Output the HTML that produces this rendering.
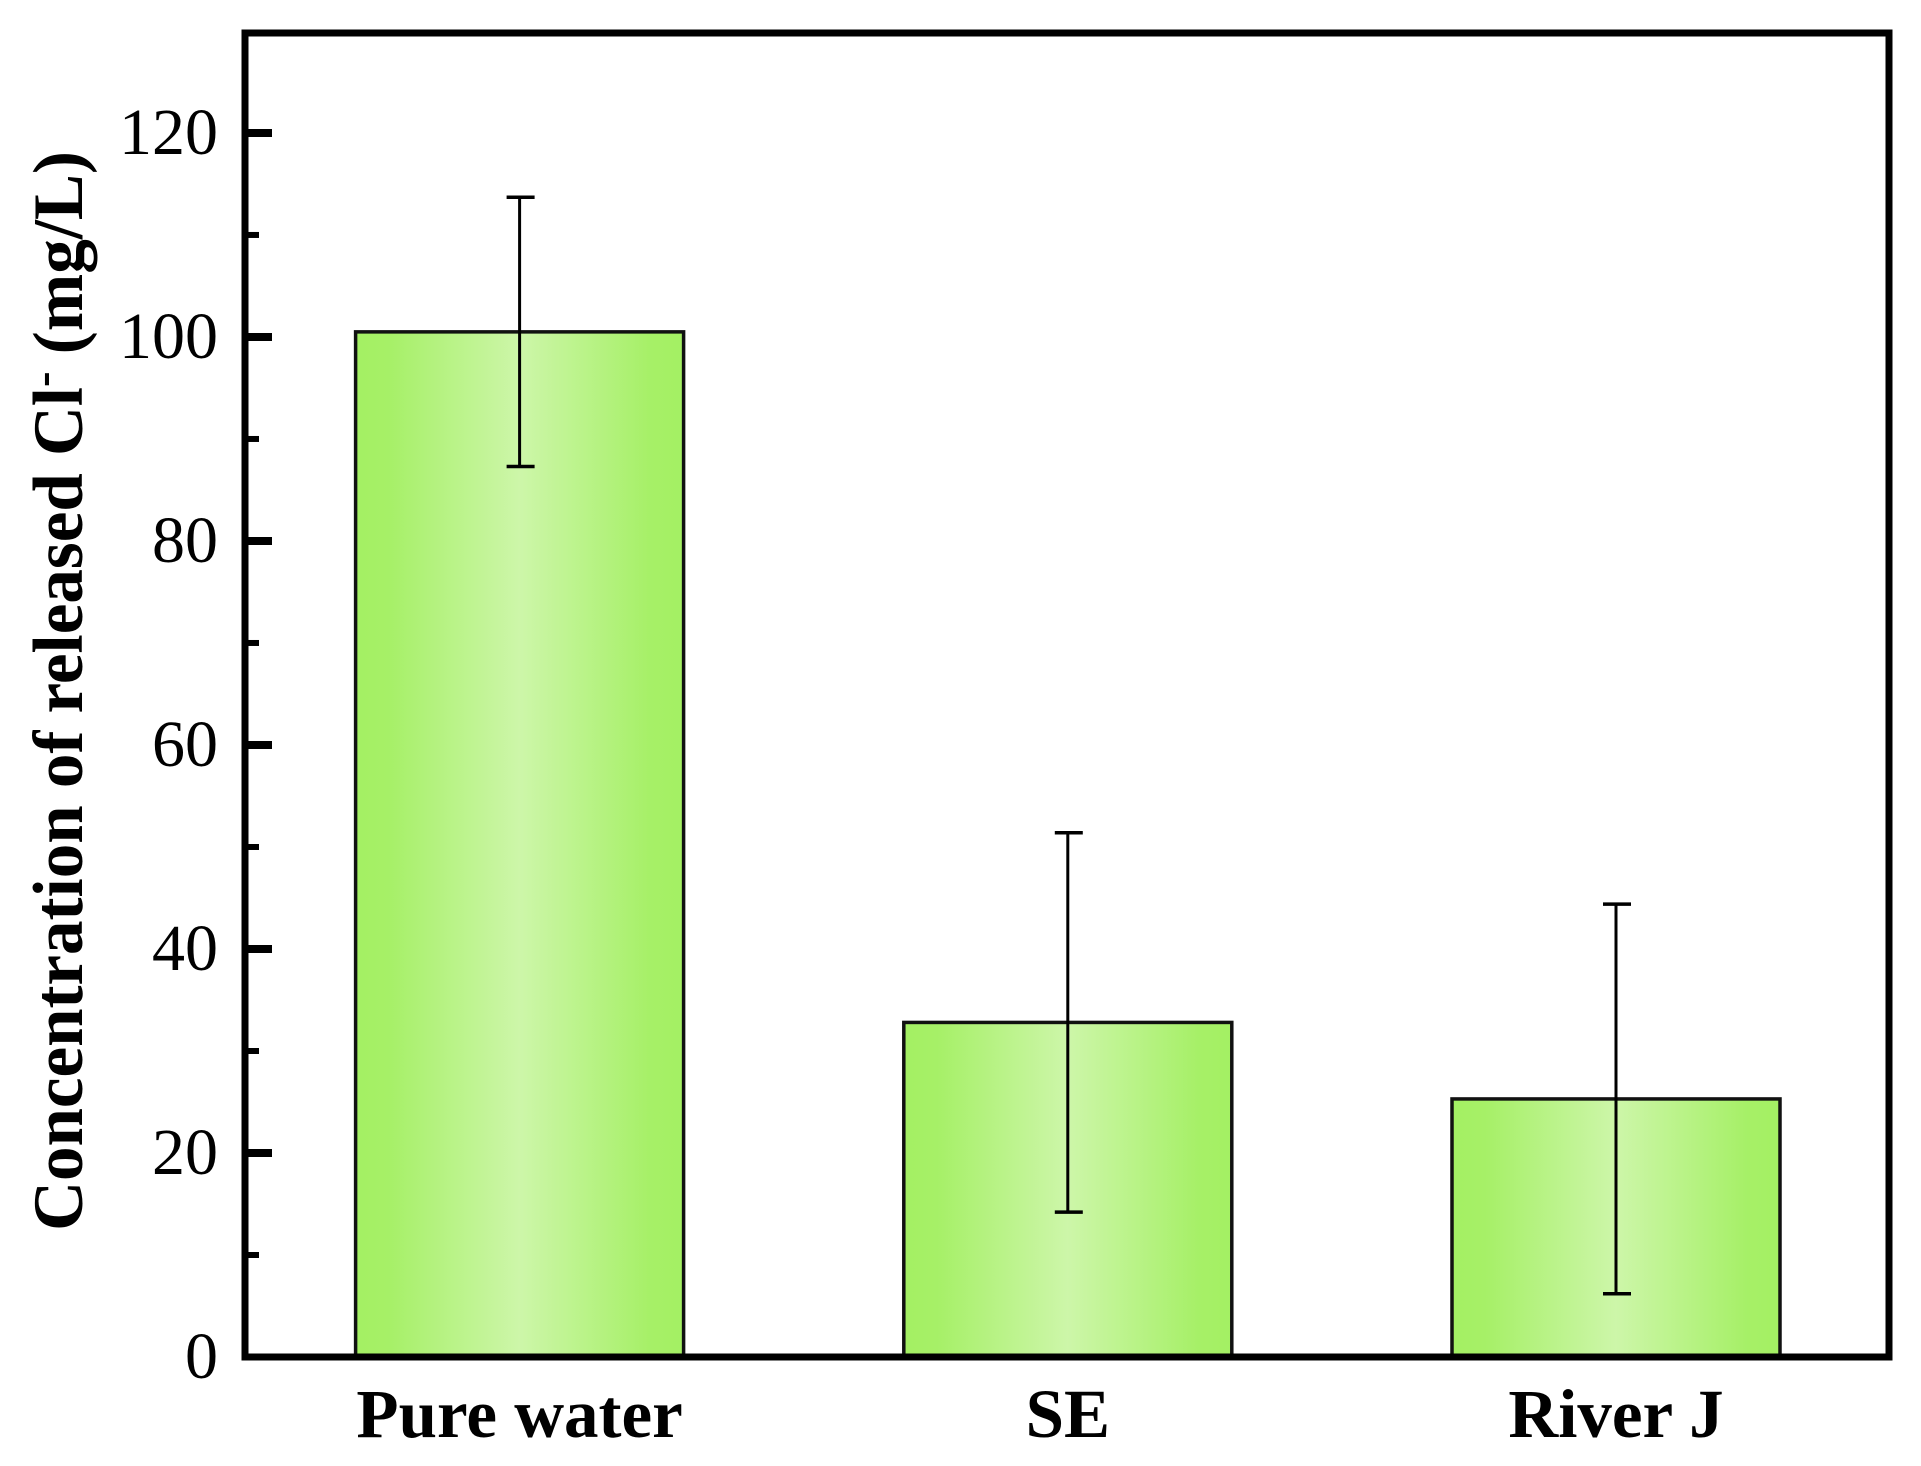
<!DOCTYPE html>
<html lang="en">
<head>
<meta charset="utf-8">
<title>Concentration of released Cl- bar chart</title>
<style>
html,body{margin:0;padding:0;background:#fff;}
svg{display:block;}
text{font-family:"Liberation Serif",serif;fill:#000;}
</style>
</head>
<body>
<svg id="chart" xmlns="http://www.w3.org/2000/svg" width="1921" height="1466" viewBox="0 0 1921 1466">
  <defs>
    <linearGradient id="barFill" x1="0" x2="1" y1="0" y2="0">
      <stop offset="0" stop-color="#a4f063"/>
      <stop offset="0.1" stop-color="#a6f067"/>
      <stop offset="0.5" stop-color="#cdf6a9"/>
      <stop offset="0.9" stop-color="#a6f067"/>
      <stop offset="1" stop-color="#a4f063"/>
    </linearGradient>
  </defs>
  <rect width="1921" height="1466" fill="#fff"/>
  <g id="bars"></g>
  <g id="errors"></g>
  <g id="ticks"></g>
  <rect x="245" y="33" width="1644" height="1324" fill="none" stroke="#000" stroke-width="7"/>
  <text transform="translate(82,691) rotate(-90) scale(0.972,1)" text-anchor="middle" font-size="71" font-weight="bold">Concentration of released Cl<tspan font-size="48" dy="-24">-</tspan><tspan dy="24"> (mg/L)</tspan></text>
</svg>
<script>
const categories = ["Pure water", "SE", "River J"];
const barValues = [100.5, 32.8, 25.3];
const errorValues = [13.2, 18.6, 19.1];
const majorTickLabels = [0, 20, 40, 60, 80, 100, 120];
const minorTickValues = [10, 30, 50, 70, 90, 110];

const NS = "http://www.w3.org/2000/svg";
const plotLeft = 245, plotRight = 1889, plotTop = 33, plotBottom = 1357;
const yMax = 129.8;
const firstCenter = 519.6, centerStep = 548.2, barWidth = 328, capHalf = 14;

function yScale(v) { return plotBottom - (v / yMax) * (plotBottom - plotTop); }
function xScale(i) { return firstCenter + i * centerStep; }

function make(tag, attrs, parent) {
  const el = document.createElementNS(NS, tag);
  for (const k in attrs) el.setAttribute(k, attrs[k]);
  parent.appendChild(el);
  return el;
}

const barsG = document.getElementById("bars");
const errorsG = document.getElementById("errors");
const ticksG = document.getElementById("ticks");

categories.forEach(function (name, i) {
  const cx = xScale(i);
  const top = yScale(barValues[i]);
  const bar = make("rect", {x: cx - barWidth / 2, y: top, width: barWidth, height: plotBottom - top, fill: "url(#barFill)", stroke: "#111", "stroke-width": 3.5}, barsG);
  
  

  const hi = yScale(barValues[i] + errorValues[i]);
  const lo = yScale(barValues[i] - errorValues[i]);
  const stem = make("line", {x1: cx, x2: cx, y1: hi, y2: lo, stroke: "#000", "stroke-width": 3}, errorsG);
  
  
  const capTop = make("line", {x1: cx - capHalf + 1, x2: cx + capHalf + 1, y1: hi, y2: hi, stroke: "#000", "stroke-width": 3.5}, errorsG);
  
  
  const capBottom = make("line", {x1: cx - capHalf + 1, x2: cx + capHalf + 1, y1: lo, y2: lo, stroke: "#000", "stroke-width": 3.5}, errorsG);
  
  

  const label = make("text", {x: cx, y: 1437, "text-anchor": "middle", "font-size": 69, "font-weight": "bold"}, ticksG);
  label.textContent = name;
  
  
});

majorTickLabels.forEach(function (v) {
  const y = yScale(v);
  if (v > 0) {
    const tick = make("line", {x1: plotLeft, x2: plotLeft + 27, y1: y, y2: y, stroke: "#000", "stroke-width": 8}, ticksG);
    
    
  }
  const label = make("text", {x: 218, y: y + 21, "text-anchor": "end", "font-size": 66}, ticksG);
  label.textContent = String(v);
  
  
});

minorTickValues.forEach(function (v) {
  const y = yScale(v);
  const tick = make("line", {x1: plotLeft, x2: plotLeft + 14, y1: y, y2: y, stroke: "#000", "stroke-width": 6}, ticksG);
  
  
});
</script>
</body>
</html>
